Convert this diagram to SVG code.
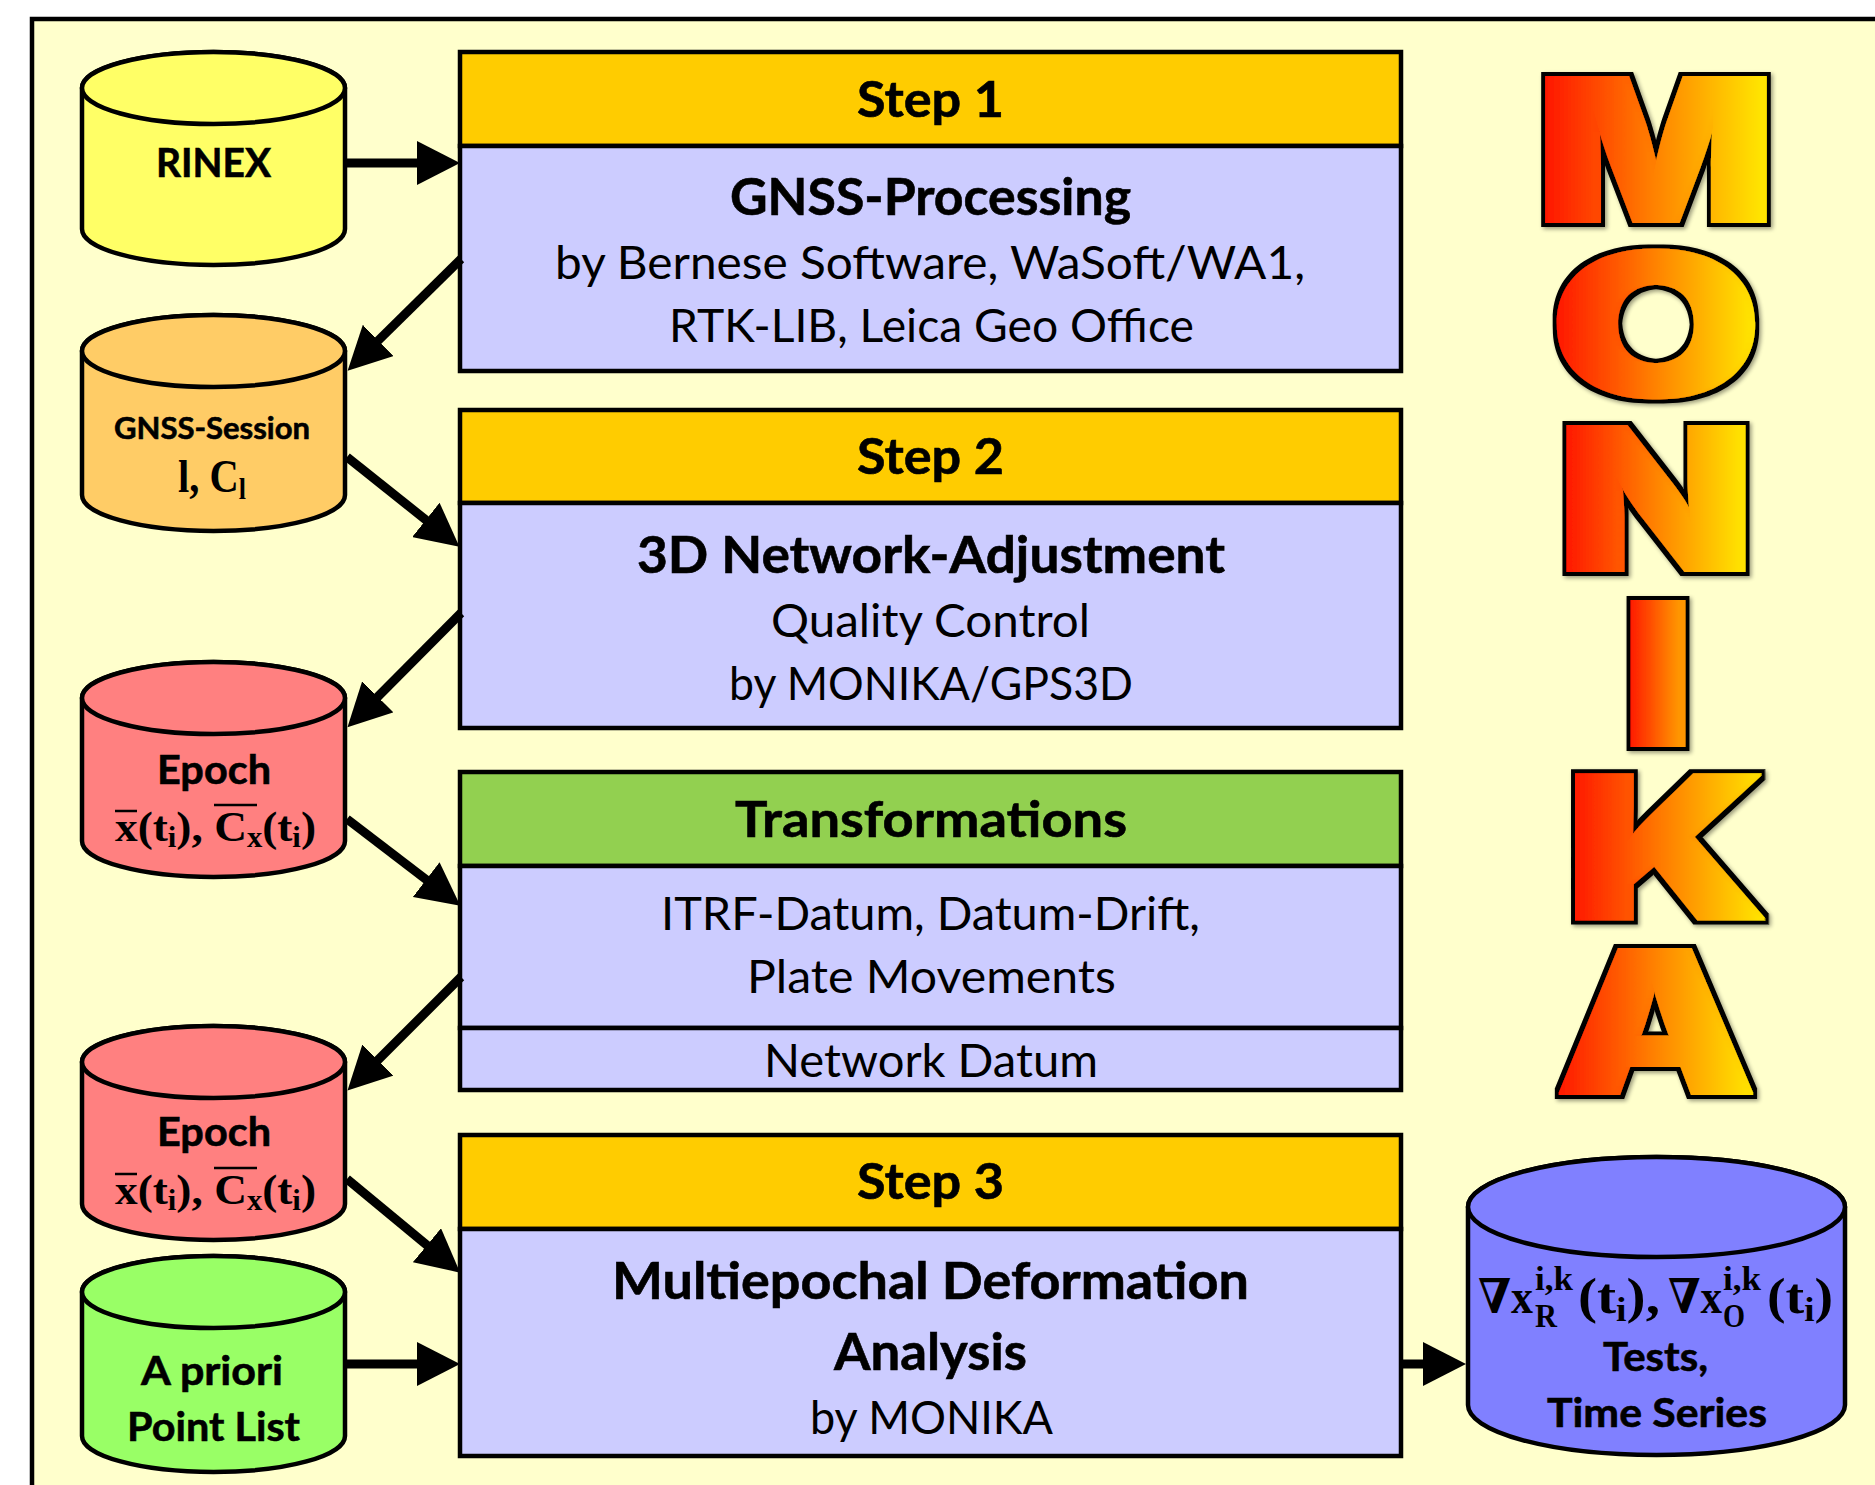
<svg xmlns="http://www.w3.org/2000/svg" width="1875" height="1485" viewBox="0 0 1875 1485">
<style>
.cyl{stroke:#000;stroke-width:4.5}
.box{stroke:#000;stroke-width:4.5}
.b{font-family:"Lato","Carlito","Liberation Sans",sans-serif;font-weight:700;fill:#000;stroke:#000;stroke-width:.6;text-anchor:middle}
.r{font-family:"Lato","Carlito","Liberation Sans",sans-serif;font-weight:400;fill:#000;text-anchor:middle}
.m{font-family:"Liberation Serif","DejaVu Serif",serif;font-weight:700;fill:#000}
.bar{stroke:#000;stroke-width:2.5;fill:none}
.arr{stroke:#000;stroke-width:9;fill:none;marker-end:url(#head)}
.wa{font-family:"Inter","Liberation Sans",sans-serif;font-weight:900;font-size:199.5px;text-anchor:middle;filter:url(#wa)}
</style>
<defs>
<marker id="head" markerUnits="userSpaceOnUse" markerWidth="44" markerHeight="44" refX="13" refY="22" orient="auto"><path d="M0,0L43,22L0,44z" fill="#000"/></marker>
<linearGradient id="g"><stop offset="0" stop-color="#ff1400"/><stop offset=".5" stop-color="#ff8000"/><stop offset="1" stop-color="#ffe600"/></linearGradient>
<linearGradient id="gM" href="#g" gradientUnits="userSpaceOnUse" x1="1546" x2="1766" y1="0" y2="0"/>
<linearGradient id="gO" href="#g" gradientUnits="userSpaceOnUse" x1="1557" x2="1756" y1="0" y2="0"/>
<linearGradient id="gN" href="#g" gradientUnits="userSpaceOnUse" x1="1566" x2="1747" y1="0" y2="0"/>
<linearGradient id="gI" href="#g" gradientUnits="userSpaceOnUse" x1="1631" x2="1715" y1="0" y2="0"/>
<linearGradient id="gK" href="#g" gradientUnits="userSpaceOnUse" x1="1573" x2="1766" y1="0" y2="0"/>
<linearGradient id="gA" href="#g" gradientUnits="userSpaceOnUse" x1="1558" x2="1755" y1="0" y2="0"/>
<filter id="wa" x="-15%" y="-15%" width="130%" height="130%">
<feMorphology in="SourceGraphic" operator="dilate" radius="3 0.5" result="thick"/>
<feMorphology in="thick" operator="dilate" radius="4" result="big"/>
<feFlood flood-color="#000"/>
<feComposite in2="big" operator="in" result="outline"/>
<feGaussianBlur in="outline" stdDeviation="2"/>
<feOffset dx="2" dy="2"/>
<feComponentTransfer result="shadow"><feFuncA type="linear" slope=".4"/></feComponentTransfer>
<feMerge><feMergeNode in="shadow"/><feMergeNode in="outline"/><feMergeNode in="thick"/></feMerge>
</filter>
</defs>
<rect width="1875" height="1485" fill="#fff"/>
<rect x="32" y="19" width="1860" height="1490" fill="#ffffcc" stroke="#000" stroke-width="4.5"/>

<g id="step1">
<rect class="box" x="460" y="52" width="941" height="94" fill="#ffcc00"/>
<rect class="box" x="460" y="146" width="941" height="225" fill="#ccccff"/>
<text class="b" x="930.5" y="117" font-size="50" textLength="147" lengthAdjust="spacingAndGlyphs">Step 1</text>
<text class="b" x="930.5" y="215" font-size="52" textLength="401" lengthAdjust="spacingAndGlyphs">GNSS-Processing</text>
<text class="r" x="930" y="279" font-size="46" textLength="750" lengthAdjust="spacingAndGlyphs">by Bernese Software, WaSoft/WA1,</text>
<text class="r" x="931.5" y="342" font-size="46" textLength="525" lengthAdjust="spacingAndGlyphs">RTK-LIB, Leica Geo Office</text>
</g>
<g id="step2">
<rect class="box" x="460" y="410" width="941" height="93" fill="#ffcc00"/>
<rect class="box" x="460" y="503" width="941" height="225" fill="#ccccff"/>
<text class="b" x="930.5" y="474" font-size="50" textLength="147" lengthAdjust="spacingAndGlyphs">Step 2</text>
<text class="b" x="931" y="573" font-size="52" textLength="588" lengthAdjust="spacingAndGlyphs">3D Network-Adjustment</text>
<text class="r" x="930.5" y="637" font-size="46" textLength="319" lengthAdjust="spacingAndGlyphs">Quality Control</text>
<text class="r" x="931" y="700" font-size="46" textLength="404" lengthAdjust="spacingAndGlyphs">by MONIKA/GPS3D</text>
</g>
<g id="transformations">
<rect class="box" x="460" y="772" width="941" height="94" fill="#92d050"/>
<rect class="box" x="460" y="866" width="941" height="162" fill="#ccccff"/>
<rect class="box" x="460" y="1028" width="941" height="62" fill="#ccccff"/>
<text class="b" x="931" y="837" font-size="50" textLength="392" lengthAdjust="spacingAndGlyphs">Transformations</text>
<text class="r" x="930.5" y="930" font-size="46" textLength="539" lengthAdjust="spacingAndGlyphs">ITRF-Datum, Datum-Drift,</text>
<text class="r" x="931.5" y="993" font-size="46" textLength="369" lengthAdjust="spacingAndGlyphs">Plate Movements</text>
<text class="r" x="931" y="1077" font-size="46" textLength="334" lengthAdjust="spacingAndGlyphs">Network Datum</text>
</g>
<g id="step3">
<rect class="box" x="460" y="1135" width="941" height="94" fill="#ffcc00"/>
<rect class="box" x="460" y="1229" width="941" height="227" fill="#ccccff"/>
<text class="b" x="930.5" y="1199" font-size="50" textLength="147" lengthAdjust="spacingAndGlyphs">Step 3</text>
<text class="b" x="930.5" y="1299" font-size="52" textLength="637" lengthAdjust="spacingAndGlyphs">Multiepochal Deformation</text>
<text class="b" x="930.5" y="1370" font-size="52" textLength="193" lengthAdjust="spacingAndGlyphs">Analysis</text>
<text class="r" x="931.5" y="1434" font-size="46" textLength="243" lengthAdjust="spacingAndGlyphs">by MONIKA</text>
</g>

<g id="rinex">
<path class="cyl" fill="#ffff66" d="M82,88V229A131.5,36 0 0 0 345,229V88A131.5,36 0 0 0 82,88Z"/>
<ellipse class="cyl" cx="213.5" cy="88" rx="131.5" ry="36" fill="#ffff66"/>
<text class="b" x="213.5" y="177" font-size="41" textLength="115" lengthAdjust="spacingAndGlyphs">RINEX</text>
</g>
<g id="gnss-session">
<path class="cyl" fill="#ffcc66" d="M82,351V495A131.5,36 0 0 0 345,495V351A131.5,36 0 0 0 82,351Z"/>
<ellipse class="cyl" cx="213.5" cy="351" rx="131.5" ry="36" fill="#ffcc66"/>
<text class="b" x="212" y="438.5" font-size="31" textLength="196" lengthAdjust="spacingAndGlyphs">GNSS-Session</text>
<text class="m" x="178" y="492" font-size="47" textLength="68" lengthAdjust="spacingAndGlyphs">l, C<tspan font-size="30" dy="7">l</tspan></text>
</g>
<g id="epoch-1">
<path class="cyl" fill="#ff8080" d="M82,698V841A131.5,36 0 0 0 345,841V698A131.5,36 0 0 0 82,698Z"/>
<ellipse class="cyl" cx="213.5" cy="698" rx="131.5" ry="36" fill="#ff8080"/>
<text class="b" x="214" y="783.5" font-size="41" textLength="114" lengthAdjust="spacingAndGlyphs">Epoch</text>
<text class="m" x="115" y="841" font-size="43" textLength="201" lengthAdjust="spacingAndGlyphs">x(t<tspan font-size="29" dy="6">i</tspan><tspan dy="-6">), C</tspan><tspan font-size="29" dy="6">x</tspan><tspan dy="-6">(t</tspan><tspan font-size="29" dy="6">i</tspan><tspan dy="-6">)</tspan></text>
<path class="bar" d="M115,811H137M214,805H257"/>
</g>
<g id="epoch-2">
<path class="cyl" fill="#ff8080" d="M82,1062V1204A131.5,36 0 0 0 345,1204V1062A131.5,36 0 0 0 82,1062Z"/>
<ellipse class="cyl" cx="213.5" cy="1062" rx="131.5" ry="36" fill="#ff8080"/>
<text class="b" x="214" y="1146" font-size="41" textLength="114" lengthAdjust="spacingAndGlyphs">Epoch</text>
<text class="m" x="115" y="1204" font-size="43" textLength="201" lengthAdjust="spacingAndGlyphs">x(t<tspan font-size="29" dy="6">i</tspan><tspan dy="-6">), C</tspan><tspan font-size="29" dy="6">x</tspan><tspan dy="-6">(t</tspan><tspan font-size="29" dy="6">i</tspan><tspan dy="-6">)</tspan></text>
<path class="bar" d="M115,1174H137M214,1168H257"/>
</g>
<g id="a-priori">
<path class="cyl" fill="#99ff66" d="M82,1292V1436A131.5,36 0 0 0 345,1436V1292A131.5,36 0 0 0 82,1292Z"/>
<ellipse class="cyl" cx="213.5" cy="1292" rx="131.5" ry="36" fill="#99ff66"/>
<text class="b" x="212" y="1385" font-size="41" textLength="142" lengthAdjust="spacingAndGlyphs">A priori</text>
<text class="b" x="213.5" y="1441" font-size="41" textLength="173" lengthAdjust="spacingAndGlyphs">Point List</text>
</g>
<g id="results">
<path class="cyl" fill="#8080ff" d="M1468,1207V1405A188.5,50 0 0 0 1845,1405V1207A188.5,50 0 0 0 1468,1207Z"/>
<ellipse class="cyl" cx="1656.5" cy="1207" rx="188.5" ry="50" fill="#8080ff"/>
<text class="m" x="1478" y="1313" font-size="48" textLength="55" lengthAdjust="spacingAndGlyphs">∇x</text>
<text class="m" x="1535" y="1290" font-size="33" textLength="38" lengthAdjust="spacingAndGlyphs">i,k</text>
<text class="m" x="1535" y="1327" font-size="33" textLength="22" lengthAdjust="spacingAndGlyphs">R</text>
<text class="m" x="1578" y="1313" font-size="50" textLength="82" lengthAdjust="spacingAndGlyphs">(t<tspan font-size="33" dy="8">i</tspan><tspan dy="-8">),</tspan></text>
<text class="m" x="1668" y="1313" font-size="48" textLength="54" lengthAdjust="spacingAndGlyphs">∇x</text>
<text class="m" x="1723" y="1290" font-size="33" textLength="38" lengthAdjust="spacingAndGlyphs">i,k</text>
<text class="m" x="1723" y="1327" font-size="33" textLength="22" lengthAdjust="spacingAndGlyphs">O</text>
<text class="m" x="1767" y="1313" font-size="50" textLength="66" lengthAdjust="spacingAndGlyphs">(t<tspan font-size="33" dy="8">i</tspan><tspan dy="-8">)</tspan></text>
<text class="b" x="1655.5" y="1371" font-size="41" textLength="105" lengthAdjust="spacingAndGlyphs">Tests,</text>
<text class="b" x="1657" y="1427" font-size="41" textLength="220" lengthAdjust="spacingAndGlyphs">Time Series</text>
</g>

<g id="monika-title">
<text class="wa" x="1656" y="221.5" fill="url(#gM)" textLength="239" lengthAdjust="spacingAndGlyphs">M</text>
<text class="wa" x="1656" y="396.5" fill="url(#gO)" textLength="211" lengthAdjust="spacingAndGlyphs">O</text>
<text class="wa" x="1656" y="570.5" fill="url(#gN)" textLength="197" lengthAdjust="spacingAndGlyphs">N</text>
<text class="wa" x="1658" y="745.5" fill="url(#gI)" textLength="72" lengthAdjust="spacingAndGlyphs">I</text>
<text class="wa" x="1667" y="919.5" fill="url(#gK)" textLength="203" lengthAdjust="spacingAndGlyphs">K</text>
<text class="wa" x="1656" y="1093.5" fill="url(#gA)" textLength="200" lengthAdjust="spacingAndGlyphs">A</text>
</g>

<g id="connectors">
<path class="arr" d="M346,163H430"/>
<path class="arr" d="M461,259L369,349.6"/>
<path class="arr" d="M347,457L436,528"/>
<path class="arr" d="M461,613L368.6,706"/>
<path class="arr" d="M347,819L436.5,887.5"/>
<path class="arr" d="M461,977L368.7,1069.3"/>
<path class="arr" d="M347,1179L437,1253.5"/>
<path class="arr" d="M346,1364H430"/>
<path class="arr" d="M1402,1364H1436"/>
</g>
</svg>
